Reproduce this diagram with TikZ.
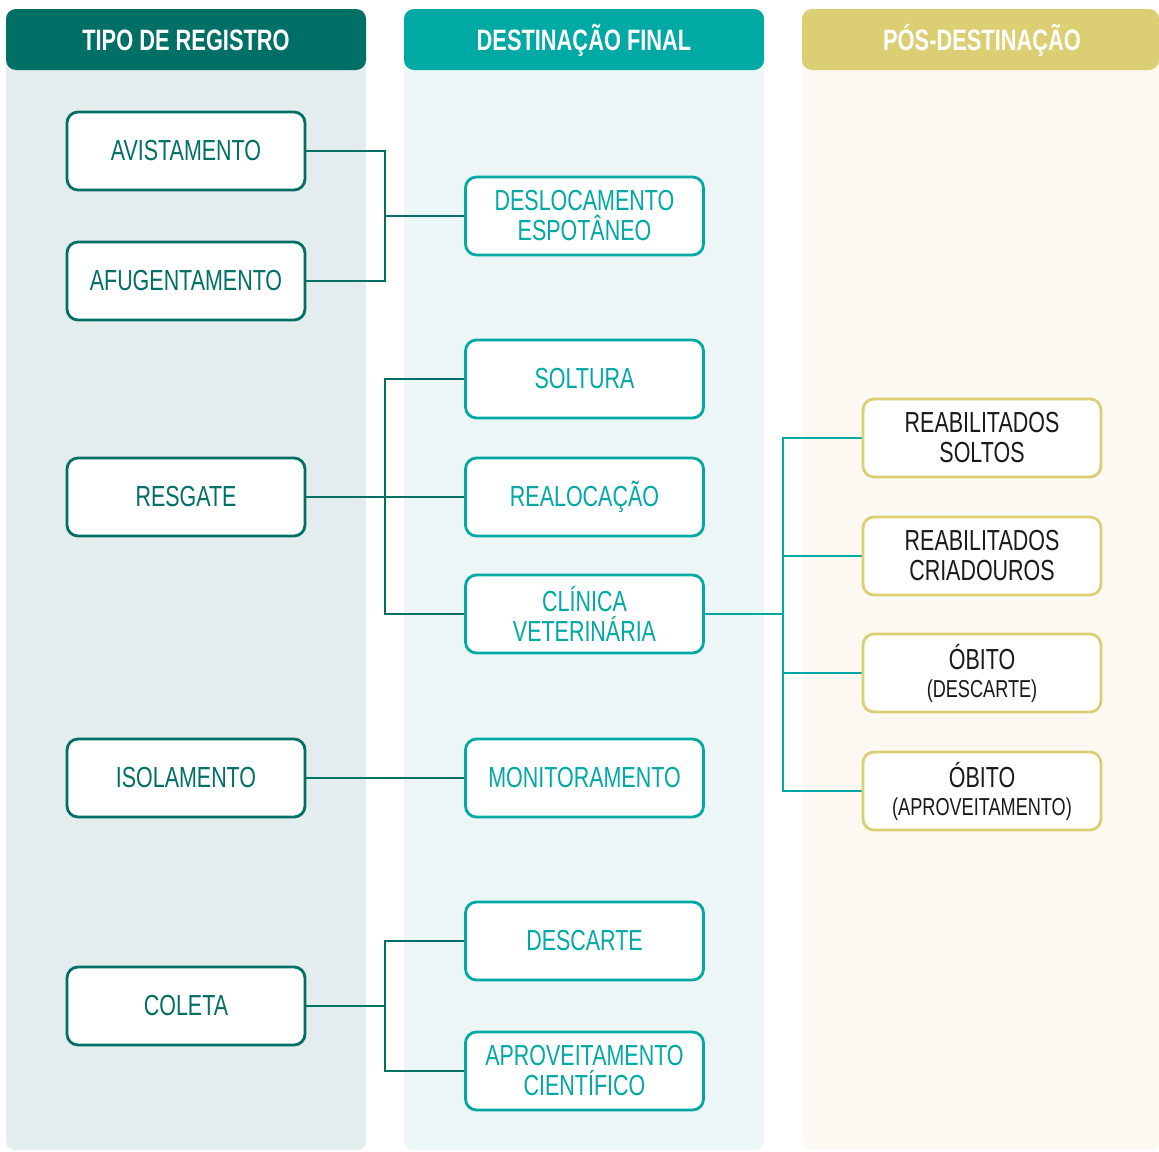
\documentclass[tikz,border=0pt]{standalone}
\usepackage{fontspec}
\setmainfont[FakeStretch=0.74]{Liberation Sans}
\definecolor{darkteal}{HTML}{006F66}
\definecolor{teal}{HTML}{00A9A4}
\definecolor{gold}{HTML}{DCCF73}
\definecolor{bandA}{HTML}{E4EDED}
\definecolor{bandB}{HTML}{EDF6F6}
\definecolor{bandC}{HTML}{FBF9F2}
\definecolor{ink}{HTML}{1A1A1A}
\tikzset{
  band/.style={rounded corners=9pt},
  header/.style={rounded corners=10pt},
  headtext/.style={text=white, font=\bfseries\fontsize{29.5}{31}\selectfont},
  box/.style={draw, fill=white, line width=2.8pt, rounded corners=11pt,
    minimum width=238pt, minimum height=78pt, inner sep=0pt, align=center,
    font=\fontsize{29}{30}\selectfont},
  regbox/.style={box, draw=darkteal, text=darkteal},
  destbox/.style={box, draw=teal, text=teal},
  postbox/.style={box, draw=gold, text=ink},
  link/.style={line width=2pt, darkteal},
  linkb/.style={line width=2pt, teal},
}
\newcommand{\subline}[1]{{\fontsize{24.5}{26}\selectfont #1}}
\begin{document}
\begin{tikzpicture}[x=1pt,y=-1pt]
\useasboundingbox (0,0) rectangle (1159,1151);
% column bands
\fill[bandA, band] (6,9) rectangle (366,1150);
\fill[bandB, band] (404,9) rectangle (764,1150);
\fill[bandC, band] (802,9) rectangle (1159,1150);
% column headers
\fill[darkteal, header] (6,9) rectangle (366,70);
\fill[teal, header] (404,9) rectangle (764,70);
\fill[gold, header] (802,9) rectangle (1159,70);
\node[headtext] (h1) at (186,40) {TIPO DE REGISTRO};
\node[headtext] (h2) at (584,40) {DESTINAÇÃO FINAL};
\node[headtext] (h3) at (982,40) {PÓS-DESTINAÇÃO};

% bus junctions
\coordinate (j1) at (385,216);
\coordinate (j2) at (385,497);
\coordinate (j3) at (385,1006);
\coordinate (j4) at (783,614);

% connectors (drawn first so boxes sit on top)
\coordinate (av) at (305,151);
\coordinate (af) at (305,281);
\draw[link] (av) -| (j1) |- (af);
\draw[link] (j1) -- (465,216) coordinate (des);

\draw[link] (305,497) coordinate (res) -- (465,497) coordinate (rea);
\draw[link] (465,379) coordinate (sol) -| (j2) |- (465,614) coordinate (cli);

\draw[link] (305,778) coordinate (iso) -- (465,778) coordinate (mon);

\draw[link] (305,1006) coordinate (col) -- (j3);
\draw[link] (465,941) coordinate (dsc) -| (j3) |- (465,1071) coordinate (apr);

\draw[linkb] (704,614) coordinate (clie) -- (j4);
\draw[linkb] (863,438) coordinate (rs) -| (j4) |- (863,791) coordinate (oa);
\draw[linkb] (783,556) coordinate (jc) -- (863,556) coordinate (rc);
\draw[linkb] (783,673) coordinate (jd) -- (863,673) coordinate (od);

% registration types
\node[regbox] (avist) at (186,151) {AVISTAMENTO};
\node[regbox] (afug) at (186,281) {AFUGENTAMENTO};
\node[regbox] (resg) at (186,497) {RESGATE};
\node[regbox] (isol) at (186,778) {ISOLAMENTO};
\node[regbox] (colet) at (186,1006) {COLETA};

% final destinations
\node[destbox] (desl) at (584.5,216) {DESLOCAMENTO\\ESPOTÂNEO};
\node[destbox] (solt) at (584.5,379) {SOLTURA};
\node[destbox] (realo) at (584.5,497) {REALOCAÇÃO};
\node[destbox] (clin) at (584.5,614) {CLÍNICA\\VETERINÁRIA};
\node[destbox] (moni) at (584.5,778) {MONITORAMENTO};
\node[destbox] (desc) at (584.5,941) {DESCARTE};
\node[destbox] (aprov) at (584.5,1071) {APROVEITAMENTO\\CIENTÍFICO};

% post-destination outcomes
\node[postbox] (rsol) at (982,438) {REABILITADOS\\SOLTOS};
\node[postbox] (rcri) at (982,556) {REABILITADOS\\CRIADOUROS};
\node[postbox] (obd) at (982,673) {ÓBITO\\[-2pt]\subline{(DESCARTE)}};
\node[postbox] (oba) at (982,791) {ÓBITO\\[-2pt]\subline{(APROVEITAMENTO)}};
\end{tikzpicture}
\end{document}
